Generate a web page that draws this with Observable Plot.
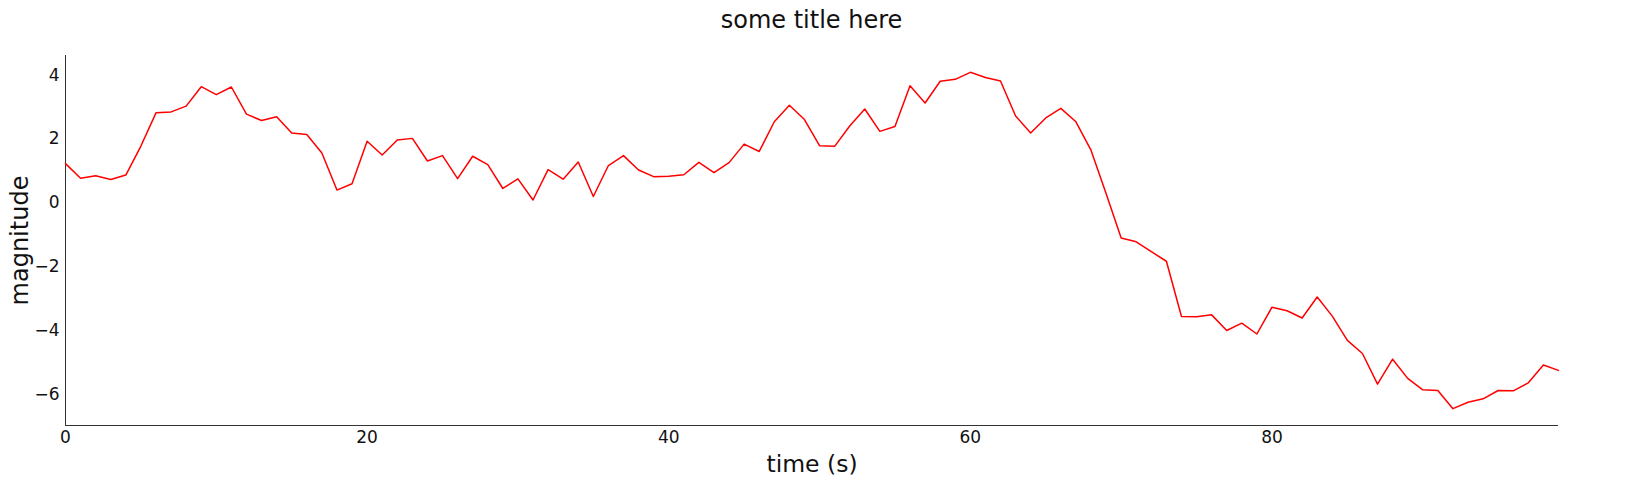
<!DOCTYPE html>
<html><head><meta charset="utf-8">
<script src="https://cdn.jsdelivr.net/npm/d3@7"></script>
<script src="https://cdn.jsdelivr.net/npm/@observablehq/plot@0.6"></script>
<style>
html,body{margin:0;padding:0;background:#fff;overflow:hidden;font-family:"DejaVu Sans",sans-serif;}
#title{box-sizing:border-box;height:45px;padding:6px 69px 0 65px;text-align:center;font-size:24px;color:#111;white-space:nowrap;}
#chart{width:1627px;height:457px;}
#chart svg{display:block;max-width:none !important;font-family:"DejaVu Sans",sans-serif;}
g[aria-label="y-axis tick label"] text, g[aria-label="x-axis tick label"] text{font-size:17px;fill:#111;}
g[aria-label="x-axis label"] text{font-size:23.5px;fill:#111;}
g[aria-label="y-axis label"] text{font-size:24px;fill:#111;}
</style></head>
<body>
<div id="title">some title here</div>
<div id="chart"></div>
<script>
const times = [0,1,2,3,4,5,6,7,8,9,10,11,12,13,14,15,16,17,18,19,20,21,22,23,24,25,26,27,28,29,30,31,32,33,34,35,36,37,38,39,40,41,42,43,44,45,46,47,48,49,50,51,52,53,54,55,56,57,58,59,60,61,62,63,64,65,66,67,68,69,70,71,72,73,74,75,76,77,78,79,80,81,82,83,84,85,86,87,88,89,90,91,92,93,94,95,96,97,98,99];
const magnitude = [1.23,0.77,0.85,0.73,0.87,1.78,2.82,2.85,3.03,3.64,3.39,3.63,2.78,2.58,2.70,2.19,2.14,1.56,0.40,0.60,
1.93,1.50,1.97,2.02,1.31,1.48,0.76,1.46,1.20,0.45,0.75,0.09,1.04,0.74,1.28,0.20,1.17,1.48,1.03,0.82,
0.83,0.88,1.27,0.95,1.26,1.84,1.61,2.54,3.06,2.61,1.79,1.77,2.41,2.94,2.24,2.39,3.67,3.13,3.81,3.87,
4.09,3.93,3.82,2.72,2.19,2.66,2.96,2.54,1.65,0.29,-1.10,-1.22,-1.53,-1.83,-3.56,-3.57,-3.51,-4.00,-3.77,-4.11,
-3.27,-3.38,-3.61,-2.95,-3.55,-4.31,-4.72,-5.68,-4.90,-5.50,-5.86,-5.88,-6.45,-6.25,-6.14,-5.88,-5.89,-5.64,-5.08,-5.25];
const xTicks = [0,20,40,60,80];
const yTicks = [-6,-4,-2,0,2,4];
const title = "some title here";
const xLabel = "time (s)";
const yLabel = "magnitude";

const data = times.map((t,i)=>({t, m: magnitude[i]}));
const [ymin, ymax] = d3.extent(magnitude);
const pad = (ymax - ymin) * 0.05;
const yDomain = [ymin - pad, ymax + pad];
const xDomain = d3.extent(times);

const chart = Plot.plot({
  width: 1627,
  height: 457,
  marginLeft: 65,
  marginRight: 69,
  marginTop: 10,
  marginBottom: 77,
  style: {maxWidth: "none"},
  x: {domain: xDomain},
  y: {domain: yDomain},
  marks: [
    Plot.axisX({ticks: xTicks, tickSize: 0, tickPadding: 5, tickFormat: d => String(d), label: xLabel, labelAnchor: "center", labelArrow: "none", labelOffset: 46}),
    Plot.axisY({ticks: yTicks, tickSize: 0, tickPadding: 6, tickFormat: d => d < 0 ? "\u2212" + Math.abs(d) : String(d), label: yLabel, labelAnchor: "center", labelArrow: "none", labelOffset: 55}),
    Plot.ruleX([xDomain[0]], {stroke: "#333", strokeWidth: 1}),
    Plot.ruleY([yDomain[0]], {stroke: "#333", strokeWidth: 1}),
    Plot.line(data, {x: "t", y: "m", stroke: "#ff0000", strokeWidth: 1.5})
  ]
});
document.getElementById("title").textContent = title;
document.getElementById("chart").appendChild(chart);
</script>
</body></html>
